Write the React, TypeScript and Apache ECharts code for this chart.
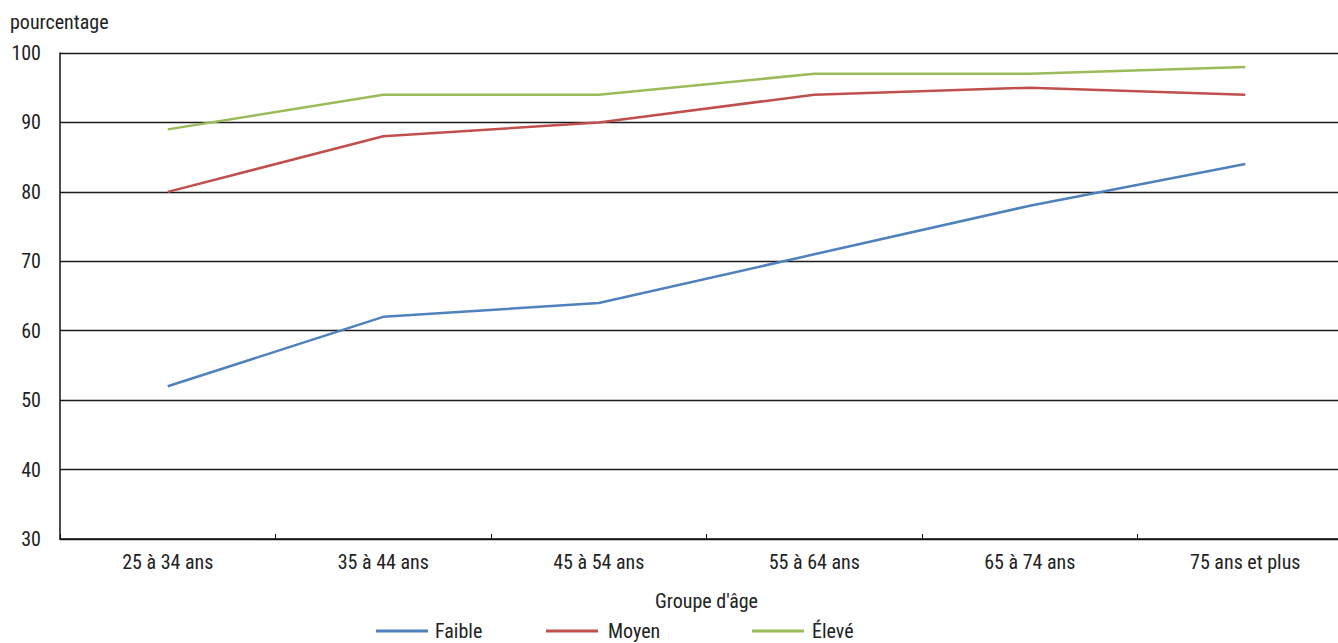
import React, { useEffect, useRef } from "react";
import * as echarts from "echarts";

const categories = ["25 à 34 ans", "35 à 44 ans", "45 à 54 ans", "55 à 64 ans", "65 à 74 ans", "75 ans et plus"];
const faible = [52, 62, 64, 71, 78, 84];
const moyen = [80, 88, 90, 94, 95, 94];
const eleve = [89, 94, 94, 97, 97, 98];
const seriesNames = ["Faible", "Moyen", "Élevé"];
const colors = ["#4F81BD", "#C0504D", "#9BBB59"];

const FONT = "'Roboto Condensed', 'Liberation Sans Narrow', 'Arial Narrow', sans-serif";

export default function App() {
  const ref = useRef<HTMLDivElement>(null);
  useEffect(() => {
    if (!ref.current) return;
    const chart = echarts.init(ref.current, undefined, { renderer: "svg" });
    const legendLefts = [376, 546, 752];
    const legendGaps = [7, 10, 8];
    chart.setOption({
      animation: false,
      textStyle: { fontFamily: FONT },
      grid: { left: 60, width: 1293, top: 53, bottom: 104, containLabel: false, outerBoundsMode: "none" },
      legend: seriesNames.map((n, i) => ({
        data: [n],
        left: legendLefts[i],
        top: 621,
        itemWidth: 52,
        itemHeight: 3,
        icon: "rect",
        itemGap: 8,
        padding: 0,
        textStyle: { fontFamily: FONT, fontSize: 20, color: "#222", padding: [0, 0, 0, legendGaps[i] - 5] },
      })),
      xAxis: {
        type: "category",
        data: categories,
        boundaryGap: true,
        name: "Groupe d'âge",
        nameLocation: "middle",
        nameGap: 52,
        nameTextStyle: { fontFamily: FONT, fontSize: 20, color: "#222" },
        axisLine: { lineStyle: { color: "#111", width: 1.5 } },
        axisTick: { show: true, inside: true, length: 5, lineStyle: { color: "#111" } },
        axisLabel: { fontFamily: FONT, fontSize: 20, color: "#222", margin: 13 },
      },
      yAxis: {
        type: "value",
        min: 30,
        max: 100,
        interval: 10,
        name: "pourcentage",
        nameLocation: "end",
        nameGap: 21,
        nameTextStyle: { fontFamily: FONT, fontSize: 20, color: "#222", align: "left", padding: [0, 0, 0, -50] },
        axisLine: { show: true, lineStyle: { color: "#111", width: 1.5 } },
        axisTick: { show: false },
        axisLabel: { fontFamily: FONT, fontSize: 20, color: "#222", margin: 19 },
        splitLine: { show: true, lineStyle: { color: "#1a1a1a", width: 1.3 } },
      },
      series: [faible, moyen, eleve].map((d, i) => ({
        name: seriesNames[i],
        type: "line",
        data: d,
        symbol: "none",
        color: colors[i],
        lineStyle: { width: 2.5, color: colors[i] },
      })),
    });
    return () => chart.dispose();
  }, []);
  return <div ref={ref} style={{ width: 1338, height: 643, position: "absolute", left: 0, top: 0, overflow: "hidden" }} />;
}
